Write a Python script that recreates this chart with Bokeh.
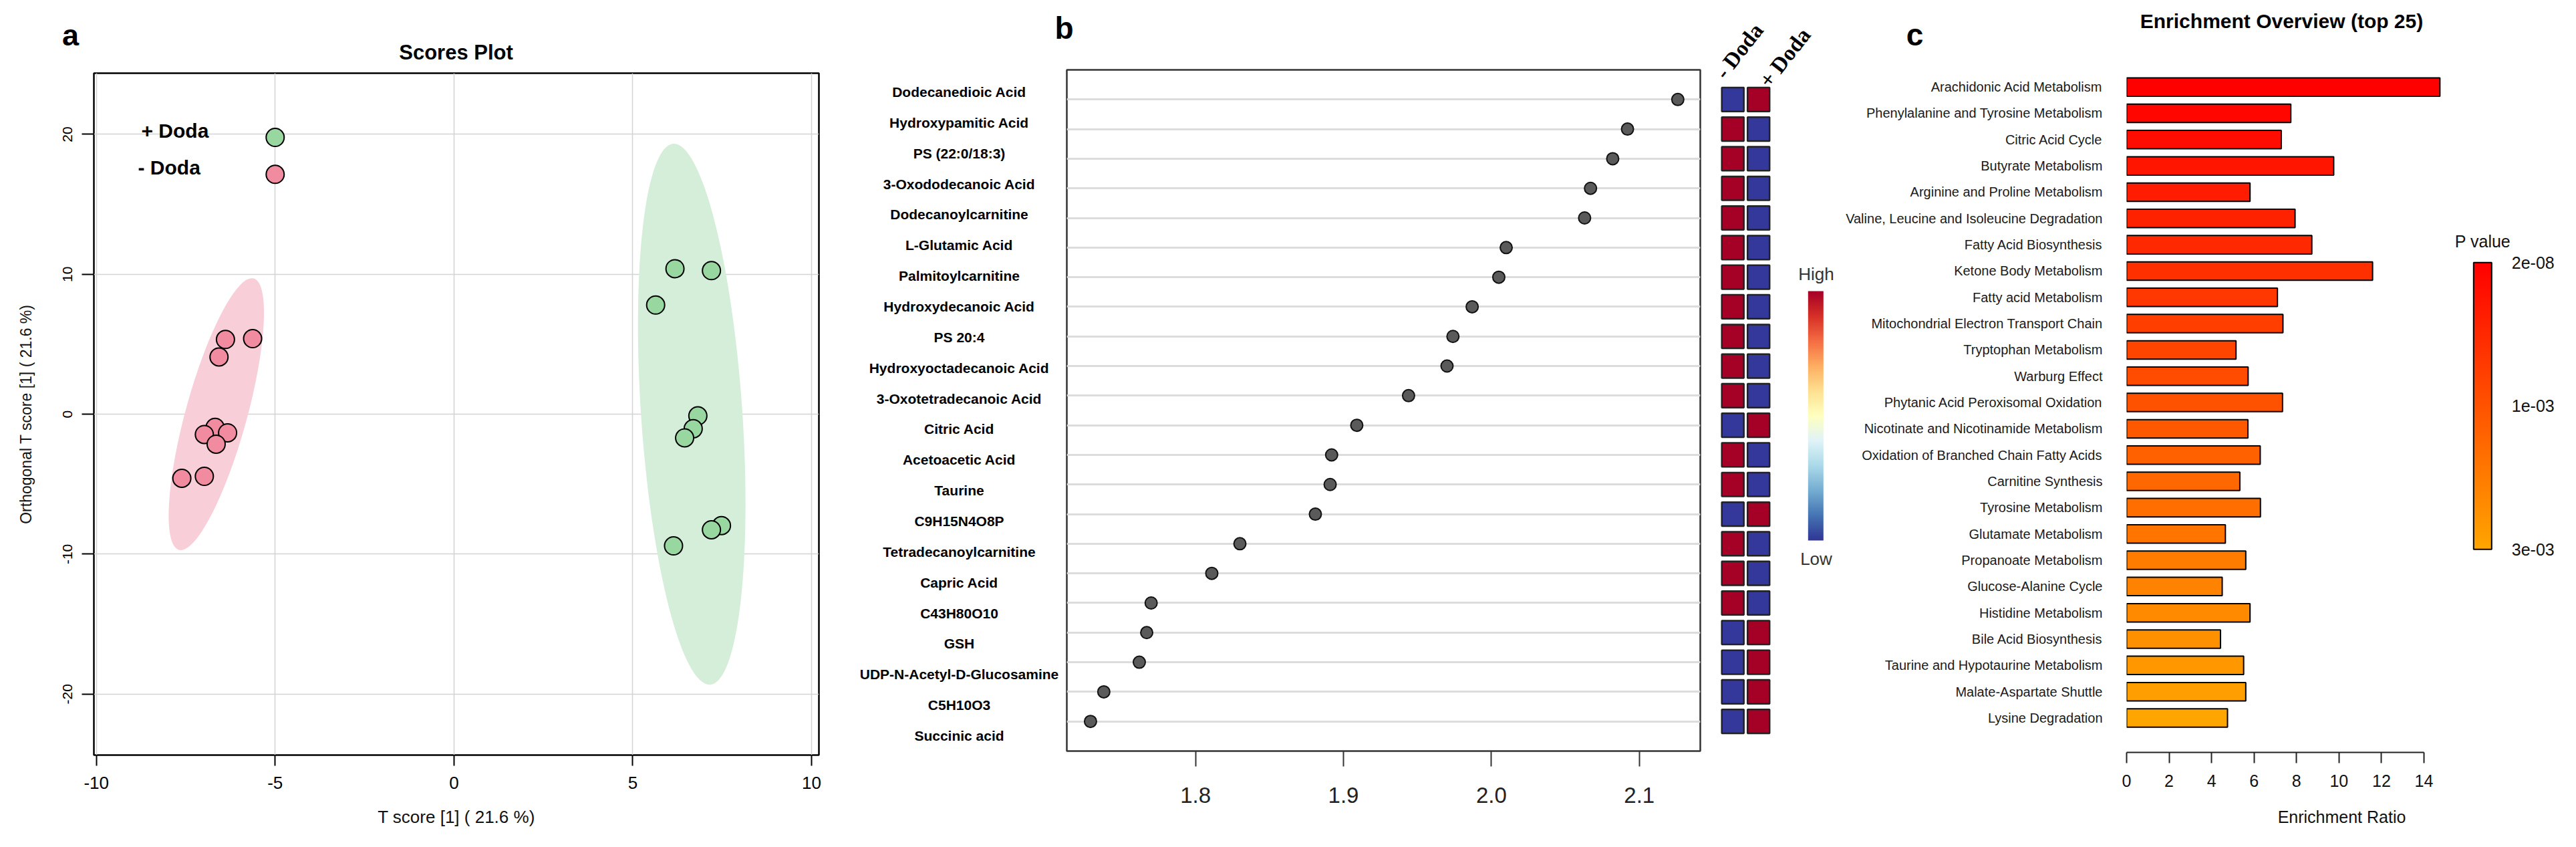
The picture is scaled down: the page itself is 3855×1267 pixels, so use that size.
import numpy as np
from bokeh.plotting import figure
from bokeh.models import Range1d, FixedTicker, Label, ColorBar, LinearColorMapper, Grid
from bokeh.layouts import row, column
from bokeh.embed import file_html
from bokeh.resources import INLINE
from bokeh.core.properties import value

SANS = "Liberation Sans"
SERIF = "Liberation Serif"

# ---------------- Panel a : OPLS-DA scores ----------------
minus_t = [-5.00, -6.39, -5.63, -6.57, -6.68, -6.98, -6.33, -6.65, -7.61, -6.98]
minus_o = [17.14, 5.34, 5.40, 4.09, -0.94, -1.45, -1.33, -2.14, -4.58, -4.44]
plus_t = [-5.00, 6.18, 7.20, 5.64, 6.82, 6.69, 6.45, 7.48, 7.20, 6.14]
plus_o = [19.78, 10.40, 10.26, 7.80, -0.12, -1.04, -1.69, -7.96, -8.26, -9.41]
ell_group = ["- Doda", "+ Doda"]
ell_cx = [-6.645, 6.649]
ell_cy = [0.0, 0.0]
ell_w = [1.716, 2.833]
ell_h = [20.12, 38.78]
ell_angle = [-15.4, 3.9]
a_xticks = [-10, -5, 0, 5, 10]
a_yticks = [-20, -10, 0, 10, 20]

# ---------------- Panel b : VIP scores ----------------
metabolites = ["Dodecanedioic Acid", "Hydroxypamitic Acid", "PS (22:0/18:3)",
               "3-Oxododecanoic Acid", "Dodecanoylcarnitine", "L-Glutamic Acid",
               "Palmitoylcarnitine", "Hydroxydecanoic Acid", "PS 20:4",
               "Hydroxyoctadecanoic Acid", "3-Oxotetradecanoic Acid", "Citric Acid",
               "Acetoacetic Acid", "Taurine", "C9H15N4O8P", "Tetradecanoylcarnitine",
               "Capric Acid", "C43H80O10", "GSH", "UDP-N-Acetyl-D-Glucosamine",
               "C5H10O3", "Succinic acid"]
vip = [2.126, 2.092, 2.082, 2.067, 2.063, 2.010, 2.005, 1.987, 1.974, 1.970, 1.944,
       1.909, 1.892, 1.891, 1.881, 1.830, 1.811, 1.770, 1.767, 1.762, 1.738, 1.729]
heat_cols = ["- Doda", "+ Doda"]
heat_minus = [0, 1, 1, 1, 1, 1, 1, 1, 1, 1, 1, 0, 1, 1, 0, 1, 1, 1, 0, 0, 0, 0]  # 1 = High
heat_plus = [1, 0, 0, 0, 0, 0, 0, 0, 0, 0, 0, 1, 0, 0, 1, 0, 0, 0, 1, 1, 1, 1]
b_xticks = [1.8, 1.9, 2.0, 2.1]
b_xlabels = ["1.8", "1.9", "2.0", "2.1"]

# ---------------- Panel c : enrichment ----------------
pathways = ["Arachidonic Acid Metabolism", "Phenylalanine and Tyrosine Metabolism",
            "Citric Acid Cycle", "Butyrate Metabolism", "Arginine and Proline Metabolism",
            "Valine, Leucine and Isoleucine Degradation", "Fatty Acid Biosynthesis",
            "Ketone Body Metabolism", "Fatty acid Metabolism",
            "Mitochondrial Electron Transport Chain", "Tryptophan Metabolism",
            "Warburg Effect", "Phytanic Acid Peroxisomal Oxidation",
            "Nicotinate and Nicotinamide Metabolism", "Oxidation of Branched Chain Fatty Acids",
            "Carnitine Synthesis", "Tyrosine Metabolism", "Glutamate Metabolism",
            "Propanoate Metabolism", "Glucose-Alanine Cycle", "Histidine Metabolism",
            "Bile Acid Biosynthesis", "Taurine and Hypotaurine Metabolism",
            "Malate-Aspartate Shuttle", "Lysine Degradation"]
ratio = [14.75, 7.73, 7.28, 9.75, 5.81, 7.93, 8.72, 11.58, 7.10, 7.36, 5.15, 5.72, 7.34,
         5.71, 6.29, 5.33, 6.30, 4.65, 5.61, 4.50, 5.81, 4.42, 5.51, 5.61, 4.75]
c_xticks = [0, 2, 4, 6, 8, 10, 12, 14]
p_ticks = [0.0, 0.5, 1.0]
p_labels = ["3e-03", "1e-03", "2e-08"]


def hex2rgb(h):
    h = h.lstrip("#")
    return [int(h[i:i + 2], 16) for i in (0, 2, 4)]


def interp(colors, n):
    rgb = np.array([hex2rgb(c) for c in colors], float)
    pos = np.linspace(0, 1, len(colors))
    t = np.linspace(0, 1, n)
    chans = [np.interp(t, pos, rgb[:, k]) for k in range(3)]
    return ["#%02x%02x%02x" % (int(round(r)), int(round(g)), int(round(b)))
            for r, g, b in zip(*chans)]


def mk_label(x, y, text, size, bold=False, align="left", baseline="alphabetic",
             font=SANS, angle=0, color="black", units="data"):
    return Label(x=x, y=y, x_units=units, y_units=units, text=text,
                 text_font=font, text_font_size="%dpx" % size,
                 text_font_style="bold" if bold else "normal", text_align=align,
                 text_baseline=baseline, angle=angle, angle_units="deg",
                 text_color=color)


def txt(p, fl, fb, px, py, text, size, **kw):
    # position given in page pixels; converted to frame-relative screen units
    p.add_layout(mk_label(px - fl, fb - py, text, size, units="screen", **kw))


def no_align(p):
    try:
        p.frame_align = False
    except Exception:
        pass
    return p


HEAD = 100        # header strip height (page y 8 .. 108)
BODY = 1150       # panel height (page y 108 .. 1258)
FULL = HEAD + BODY


def header(x0, w):
    h = figure(width=w, height=HEAD, x_range=Range1d(x0, x0 + w),
               y_range=Range1d(8 + HEAD, 8), output_backend="svg", toolbar_location=None,
               x_axis_location=None, y_axis_location=None, min_border=0,
               min_border_left=0, min_border_right=0, min_border_top=0,
               min_border_bottom=0)
    h.outline_line_color = None
    h.grid.visible = False
    return no_align(h)


# ================= Figure A =================
hA = header(8, 1254)
hA.add_layout(mk_label(113, 60, "a", 45, bold=True, align="center"))
hA.add_layout(mk_label(690, 86, "Scores Plot", 31, bold=True, align="center"))

pA = figure(width=1254, height=BODY, x_range=Range1d(-10.069, 10.205),
            y_range=Range1d(-24.36, 24.37), output_backend="svg", toolbar_location=None,
            min_border_left=140, min_border_right=29, min_border_top=9,
            min_border_bottom=121)
no_align(pA)
pA.background_fill_color = "white"
pA.outline_line_color = "black"
pA.outline_line_width = 2.5
ell_colors = ["#f8cfd9", "#d5eed9"]
for i in (1, 0):
    pA.ellipse(x=[ell_cx[i]], y=[ell_cy[i]], width=[ell_w[i]], height=[ell_h[i]],
               angle=[ell_angle[i]], angle_units="deg", fill_color=ell_colors[i],
               line_color=None)
pA.scatter(plus_t, plus_o, size=27, marker="circle", fill_color="#98d8a0",
           line_color="black", line_width=2)
pA.scatter(minus_t, minus_o, size=27, marker="circle", fill_color="#f08ba0",
           line_color="black", line_width=2)
pA.xaxis.ticker = FixedTicker(ticks=a_xticks)
pA.yaxis.ticker = FixedTicker(ticks=a_yticks)
pA.xaxis.major_label_overrides = {t: str(t) for t in a_xticks}
pA.yaxis.major_label_overrides = {t: str(t) for t in a_yticks}
for ax in (pA.xaxis, pA.yaxis):
    ax.axis_line_color = None
    ax.minor_tick_line_color = None
    ax.major_tick_in = 0
    ax.major_tick_line_width = 2
    ax.major_tick_line_color = "black"
    ax.major_label_text_font = SANS
    ax.major_label_text_color = "black"
    ax.axis_label_text_font = SANS
    ax.axis_label_text_font_style = "normal"
    ax.axis_label_text_color = "#111111"
pA.xaxis.major_tick_out = 16
pA.yaxis.major_tick_out = 18
pA.xaxis.major_label_text_font_size = "26px"
pA.yaxis.major_label_text_font_size = "21px"
pA.yaxis.major_label_orientation = "vertical"
pA.xaxis.major_label_standoff = 16
pA.yaxis.major_label_standoff = 14
pA.xaxis.axis_label = "T score [1] ( 21.6 %)"
pA.yaxis.axis_label = "Orthogonal T score [1] ( 21.6 %)"
pA.xaxis.axis_label_text_font_size = "26px"
pA.yaxis.axis_label_text_font_size = "23px"
pA.xaxis.axis_label_standoff = 24
pA.yaxis.axis_label_standoff = 40
pA.grid.grid_line_color = "#d3d3d3"
pA.grid.grid_line_width = 1.5
txt(pA, 148, 1137, 219, 203, ell_group[1], 30, bold=True)
txt(pA, 148, 1137, 214, 258, ell_group[0], 30, bold=True)

# ================= Figure L (metabolite names) + B (VIP dots) =================
hLB = header(1262, 1304)
hLB.add_layout(mk_label(1600, 49, "b", 46, bold=True, align="center"))

rows_b = list(range(1, len(metabolites) + 1))
pL = figure(width=338, height=BODY, x_range=Range1d(0, 1), y_range=Range1d(22.5, 0.5),
            output_backend="svg", toolbar_location=None, x_axis_location=None,
            y_axis_location=None, min_border_left=0, min_border_right=0,
            min_border_top=14, min_border_bottom=127)
no_align(pL)
pL.outline_line_color = None
pL.grid.visible = False
pL.text(x=[0.5355] * len(metabolites), y=rows_b, text=metabolites, text_font=value(SANS),
        text_font_style="bold", text_font_size="21px", text_align="center",
        text_baseline="middle", text_color="black")

B_TOP, B_BOT = 4, 127
yr_b = Range1d(23, 0)
pB = figure(width=966, height=BODY, x_range=Range1d(1.7130, 2.1412), y_range=yr_b,
            output_backend="svg", toolbar_location=None, y_axis_location=None,
            min_border_left=4, min_border_right=14, min_border_top=B_TOP,
            min_border_bottom=B_BOT)
no_align(pB)
pB.outline_line_color = "#333333"
pB.outline_line_width = 2.5
pB.xgrid.visible = False
pB.add_layout(Grid(dimension=1, ticker=FixedTicker(ticks=rows_b), grid_line_color="#dcdcdc",
                   grid_line_width=3))
pB.scatter(vip, rows_b, size=18, marker="circle", fill_color="#5a5a5a", line_color="#111111",
           line_width=2)
pB.xaxis.ticker = FixedTicker(ticks=b_xticks)
pB.xaxis.major_label_overrides = dict(zip(b_xticks, b_xlabels))
pB.xaxis.axis_line_color = None
pB.xaxis.minor_tick_line_color = None
pB.xaxis.major_tick_in = 0
pB.xaxis.major_tick_out = 23
pB.xaxis.major_tick_line_width = 2
pB.xaxis.major_tick_line_color = "#333333"
pB.xaxis.major_label_text_font = SANS
pB.xaxis.major_label_text_font_size = "33px"
pB.xaxis.major_label_text_color = "#222222"
pB.xaxis.major_label_standoff = 31

# ================= Figure H (heatmap + key), full height =================
frame_h_b = BODY - B_TOP - B_BOT
px_row = frame_h_b / 23.0
h_frame = FULL - B_BOT
H_X0, H_PX = 0.0987, 38.5      # x-range start and pixels per column
pH = figure(width=194, height=FULL, x_range=Range1d(H_X0, H_X0 + 194 / H_PX),
            y_range=Range1d(23, 23 - h_frame / px_row),
            output_backend="svg", toolbar_location=None, x_axis_location=None,
            y_axis_location=None, min_border_left=0, min_border_right=0,
            min_border_top=0, min_border_bottom=B_BOT)
no_align(pH)
pH.outline_line_color = None
pH.grid.visible = False
hi, lo = "#a50026", "#34389a"
for ci, col in enumerate([heat_minus, heat_plus]):
    pH.rect(x=[ci + 1] * len(col), y=rows_b, width=0.857, height=0.805,
            fill_color=[hi if v else lo for v in col], line_color="#222222", line_width=2.5)


def hx(page_x):
    return H_X0 + (page_x - 2566) / H_PX


def hy(page_y):
    return 23 - (1131 - page_y) / px_row


# rotated column headers drawn as a text glyph
pH.text(x=[hx(2581), hx(2647)], y=[hy(121), hy(134)], text=heat_cols, angle=52,
        angle_units="deg", text_font=value(SERIF), text_font_style="bold",
        text_font_size="33px", text_align="left", text_baseline="alphabetic",
        text_color="black")
fl, fb = 2566, 1131
txt(pH, fl, fb, 2725.5, 417, "High", 26, align="center", color="#333333")
txt(pH, fl, fb, 2725.5, 843, "Low", 26, align="center", color="#333333")
rdylbu = ["#313695", "#4575b4", "#74add1", "#abd9e9", "#e0f3f8", "#ffffbf", "#fee090",
          "#fdae61", "#f46d43", "#d73027", "#a50026"]
hm = LinearColorMapper(palette=interp(rdylbu, 256), low=0, high=1)
pH.add_layout(ColorBar(color_mapper=hm, location=(147.3, 315), width=23, height=373,
                       padding=0, ticker=FixedTicker(ticks=[]),
                       major_label_text_font_size="0px", major_tick_line_color=None,
                       bar_line_color=None, border_line_color=None,
                       background_fill_color=None))

# ================= Figure C (enrichment) =================
hC = header(2760, 1086)
hC.add_layout(mk_label(2873, 59, "c", 46, bold=True, align="center"))
hC.add_layout(mk_label(3422, 39, "Enrichment Overview (top 25)", 30, bold=True,
                       align="center"))

rows_c = list(range(1, len(pathways) + 1))
bar_colors = interp(["#ff0000", "#ffa500"], len(pathways))
pC = figure(width=1086, height=BODY, x_range=Range1d(0, 20.26), y_range=Range1d(26.31, 0.5),
            output_backend="svg", toolbar_location=None, min_border_left=430,
            min_border_right=12, min_border_top=10, min_border_bottom=125)
no_align(pC)
pC.outline_line_color = None
pC.grid.visible = False
pC.hbar(y=rows_c, left=0, right=ratio, height=0.7, fill_color=bar_colors,
        line_color="black", line_width=2)
pC.yaxis.ticker = FixedTicker(ticks=rows_c)
pC.yaxis.major_label_overrides = dict(zip(rows_c, pathways))
pC.yaxis.axis_line_color = None
pC.yaxis.major_tick_line_color = None
pC.yaxis.minor_tick_line_color = None
pC.yaxis.major_tick_out = 0
pC.yaxis.major_tick_in = 0
pC.yaxis.major_label_standoff = 36
pC.yaxis.major_label_text_font = SANS
pC.yaxis.major_label_text_font_size = "20px"
pC.yaxis.major_label_text_color = "#1a1a1a"
pC.xaxis.ticker = FixedTicker(ticks=c_xticks)
pC.xaxis.bounds = (0, 14)
pC.xaxis.axis_line_width = 2
pC.xaxis.axis_line_color = "#222222"
pC.xaxis.minor_tick_line_color = None
pC.xaxis.major_tick_in = 0
pC.xaxis.major_tick_out = 16
pC.xaxis.major_tick_line_width = 2
pC.xaxis.major_tick_line_color = "#222222"
pC.xaxis.major_label_text_font = SANS
pC.xaxis.major_label_text_font_size = "25px"
pC.xaxis.major_label_text_color = "#111111"
pC.xaxis.major_label_standoff = 17
pC.xaxis.axis_label = "Enrichment Ratio"
pC.xaxis.axis_label_text_font = SANS
pC.xaxis.axis_label_text_font_style = "normal"
pC.xaxis.axis_label_text_font_size = "25px"
pC.xaxis.axis_label_text_color = "#111111"
pC.xaxis.axis_label_standoff = 28
fl, fb = 3190, 1133
txt(pC, fl, fb, 3723, 368, "P value", 25, align="center", color="#111111")
pm = LinearColorMapper(palette=interp(["#ffa500", "#ff0000"], 256), low=0, high=1)
pC.add_layout(ColorBar(color_mapper=pm, location=(519.3, 303.7), width=27, height=429,
                       padding=0, ticker=FixedTicker(ticks=p_ticks),
                       major_label_overrides=dict(zip(p_ticks, p_labels)),
                       major_label_text_font=SANS, major_label_text_font_size="25px",
                       major_label_text_color="#111111", label_standoff=30,
                       major_tick_line_color=None, bar_line_color="black",
                       bar_line_width=2, border_line_color=None,
                       background_fill_color=None))

layout = row(column(hA, pA), column(hLB, row(pL, pB)), pH, column(hC, pC))
open("out.html", "w").write(file_html(layout, INLINE))
